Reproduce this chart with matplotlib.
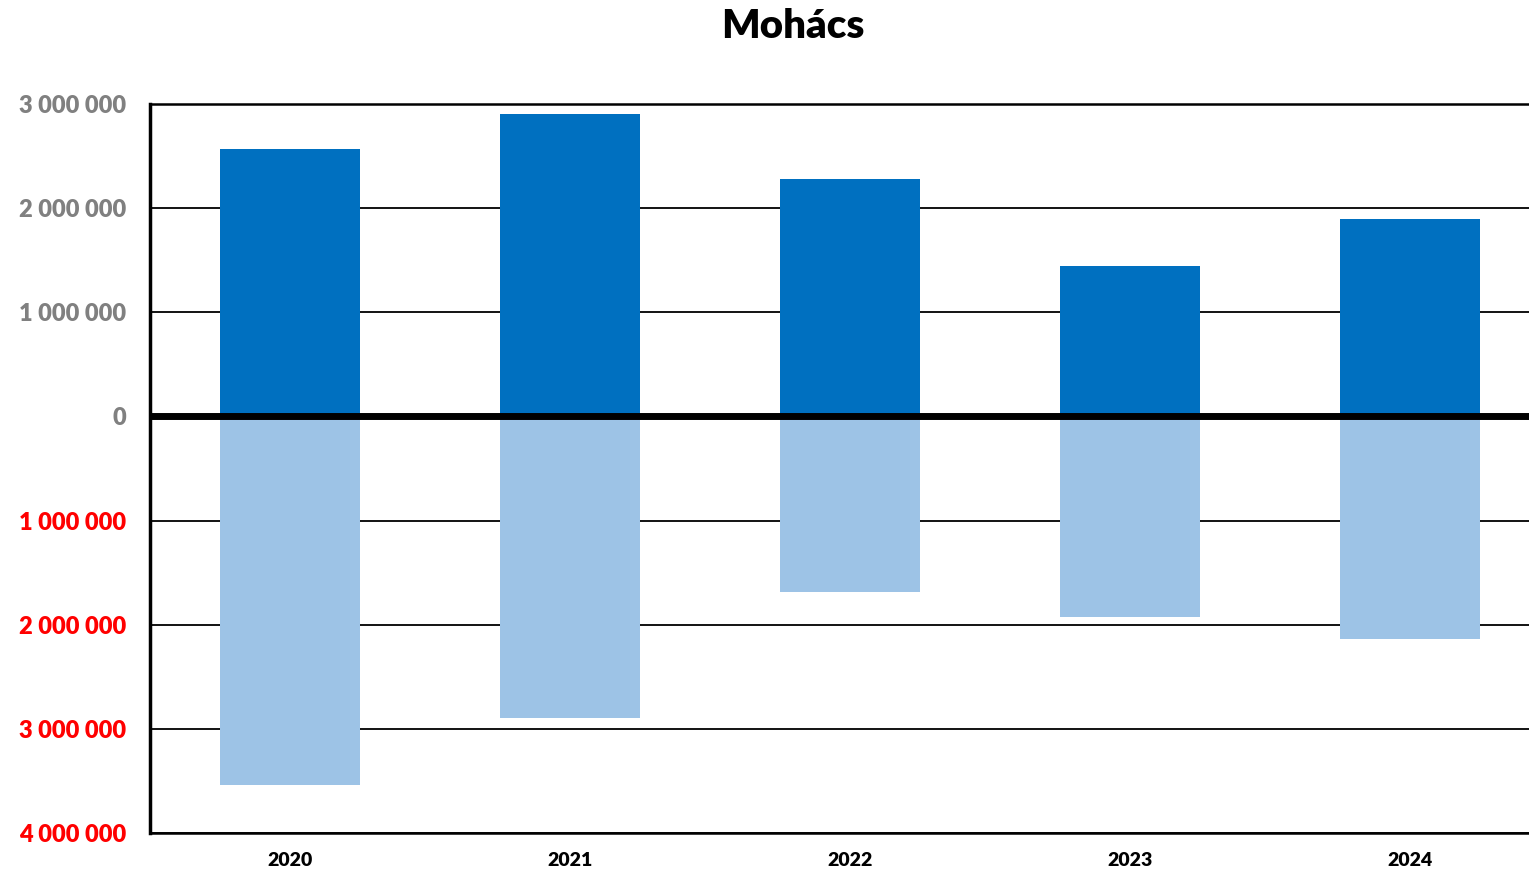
import matplotlib
matplotlib.use("Agg")
import matplotlib.pyplot as plt
from matplotlib.ticker import FixedLocator

plt.rcParams['font.family'] = ['Lato', 'DejaVu Sans']

years = ["2020", "2021", "2022", "2023", "2024"]
income = [2570000, 2900000, 2280000, 1440000, 1900000]
expense = [3540000, 2900000, 1690000, 1930000, 2140000]
tick_values = [3000000, 2000000, 1000000, 0, -1000000, -2000000, -3000000, -4000000]
tick_labels = ["3 000 000", "2 000 000", "1 000 000", "0", "1 000 000", "2 000 000", "3 000 000", "4 000 000"]
tick_colors = ["#808080"] * 4 + ["#FF0000"] * 4

fig = plt.figure(figsize=(15.29, 8.72), dpi=100)
ax = fig.add_axes([150/1529, 39/872, 1400/1529, 729/872])

x = list(range(len(years)))
ax.bar(x, income, width=0.5, color="#0070C0", zorder=3)
ax.bar(x, [-v for v in expense], width=0.5, color="#9DC3E6", zorder=3)

ax.set_xlim(-0.5, len(years) - 0.5)
ax.set_ylim(-4000000, 3000000)
ax.yaxis.set_major_locator(FixedLocator(tick_values))
ax.set_yticklabels(tick_labels, fontsize=17, fontweight='heavy')
for lbl, c in zip(ax.get_yticklabels(), tick_colors):
    lbl.set_color(c)
ax.set_xticks(x)
ax.set_xticklabels(years, fontsize=14, fontweight='heavy')
ax.tick_params(axis='both', length=0)
ax.tick_params(axis='y', pad=17)
ax.tick_params(axis='x', pad=14)

for v in tick_values:
    if v != 0:
        ax.axhline(v, color='black', lw=1.3, zorder=1)
ax.axhline(0, color='black', lw=5, zorder=4)

for s in ['top', 'bottom']:
    ax.spines[s].set_linewidth(1.8)
ax.spines['left'].set_linewidth(2.5)
ax.spines['right'].set_visible(False)

fig.text(793/1529, 1 - 27/872, "Mohács", ha='center', va='center', fontsize=29, fontweight='heavy')

fig.savefig("out.png", dpi=100)
